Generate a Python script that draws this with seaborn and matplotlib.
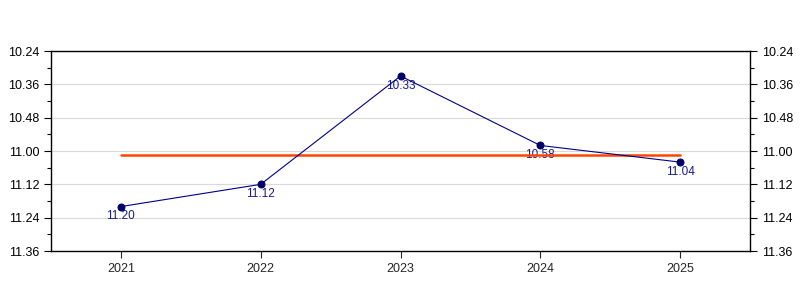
import matplotlib
matplotlib.use("Agg")
import matplotlib.pyplot as plt
import seaborn as sns
import pandas as pd
import numpy as np
from matplotlib.ticker import FixedLocator, FuncFormatter, MultipleLocator

years = ["2021", "2022", "2023", "2024", "2025"]
labels = ["11.20", "11.12", "10.33", "10.58", "11.04"]
minutes = [11, 11, 10, 10, 11]
seconds = [20, 12, 33, 58, 4]

total = [m * 60 + s for m, s in zip(minutes, seconds)]
avg = float(np.mean(total))
df = pd.DataFrame({"year": years, "t": total, "x": range(len(years))})

sns.set_theme(style="white")
plt.rcParams["font.family"] = ["Liberation Sans", "DejaVu Sans"]

fig = plt.figure(figsize=(8, 3), dpi=100)
ax = fig.add_axes([0.06375, 0.1633, 0.87375, 0.6667])

ax.set_xlim(-0.5, 4.5)
ax.set_ylim(696, 624)

major = [624, 636, 648, 660, 672, 684, 696]
for v in major:
    ax.axhline(v, color="#d9d9d9", lw=0.8, zorder=0)

sns.lineplot(data=df, x="x", y="t", ax=ax, color="#00008b", lw=0.8,
             marker="o", markersize=5, markerfacecolor="#000066",
             markeredgecolor="#000066", zorder=3)
for xi, ti, lab in zip(df["x"], df["t"], labels):
    ax.annotate(lab, (xi, ti), xytext=(0, -7), textcoords="offset points",
                ha="center", va="center", fontsize=8.5, color="#1a1a8c", zorder=2)
ax.plot([0, len(years) - 1], [avg, avg], color="#ff4500", lw=1.8, zorder=2.5)

def fmt(v, pos):
    v = int(round(v))
    return f"{v // 60}.{v % 60:02d}"

ax.yaxis.set_major_locator(FixedLocator(major))
ax.yaxis.set_minor_locator(MultipleLocator(6))
ax.yaxis.set_major_formatter(FuncFormatter(fmt))
ax.set_xticks(range(len(years)))
ax.set_xticklabels(years)
ax.tick_params(axis="y", which="both", left=True, right=True, labelleft=True,
               labelright=True, direction="out", labelsize=9, colors="black")
ax.tick_params(axis="y", which="major", length=5, width=0.8)
ax.tick_params(axis="y", which="minor", length=3, width=0.8)
ax.tick_params(axis="x", bottom=True, direction="out", length=5, width=0.8, labelsize=9)
ax.set_xlabel("")
ax.set_ylabel("")
for sp in ax.spines.values():
    sp.set_color("black")
    sp.set_linewidth(1)
fig.savefig("out.png", dpi=100)
